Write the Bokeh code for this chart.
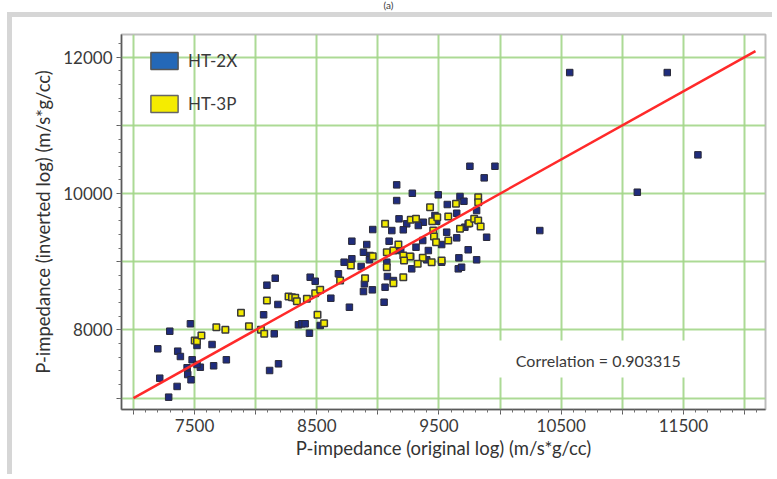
from bokeh.plotting import figure
from bokeh.layouts import column
from bokeh.models import Range1d, FixedTicker, Legend, LegendItem, BoxAnnotation, Label, Div
from bokeh.embed import file_html
from bokeh.resources import INLINE

# ---------------- data ----------------
ht2x_x = [7297, 7199, 7466, 7362, 7384, 7215, 7357, 7288, 7439, 7444, 7471, 7480, 7520, 7547,
          7520, 7643, 7656, 7760, 8092, 8065, 8182, 8152, 8114, 8187, 8350, 8378, 8405, 8440,
          8528, 8615, 8767, 8890, 8882, 8955, 9051, 9059, 9154, 9154, 9173, 8958, 9114, 8787,
          8909, 8882, 8936, 8724, 8787, 8863, 8931, 9092, 9073, 9078, 9127, 8446, 8487, 8677,
          8160, 9753, 9958, 9870, 11619, 11123, 10325, 9282, 9494, 9672, 9704, 9568, 9645, 9808,
          9372, 9331, 9236, 9208, 9467, 9481, 9563, 9712, 9739, 9890, 9645, 9522, 9367, 9187,
          9312, 9413, 9739, 9808, 9663, 9658, 9685, 9522, 9400, 9277, 9269, 10570, 11368]
ht2x_y = [7982, 7724, 8091, 7689, 7611, 7293, 7172, 7015, 7446, 7347, 7270, 7563, 7773, 7454,
          7494, 7787, 7475, 7563, 8657, 8223, 8374, 7944, 7406, 7504, 8076, 8091, 8091, 7953,
          8066, 8466, 8334, 8677, 8564, 8589, 8407, 8627, 10128, 9898, 9630, 9473, 9458, 9302,
          9253, 9140, 9092, 8994, 9044, 8931, 9029, 9302, 8994, 8784, 8725, 8774, 8715, 8824,
          8759, 10401, 10401, 10231, 10568, 10020, 9458, 10005, 9982, 9957, 9888, 9840, 9712, 9752,
          9580, 9532, 9557, 9469, 9678, 9595, 9434, 9507, 9557, 9360, 9351, 9253, 9312, 9165,
          9214, 9165, 9176, 9029, 9058, 8897, 8920, 8994, 9029, 8897, 9077, 11775, 11775]

ht3p_x = [7501, 7520, 7556, 7678, 7752, 7880, 7945, 8043, 8070, 8092, 8269, 8297, 8324, 8337,
          8419, 8487, 8528, 8506, 8560, 9127, 9059, 9073, 9127, 8958, 8779, 9073, 8895, 8691,
          9427, 9639, 9821, 9821, 9269, 9312, 9445, 9486, 9576, 9672, 9748, 9788, 9821, 9841,
          9453, 9459, 9476, 9576, 9168, 9208, 9263, 9214, 9367, 9440, 9326, 9522, 9208]
ht3p_y = [7846, 7836, 7919, 8041, 8003, 8252, 8056, 8003, 7944, 8432, 8491, 8481, 8472, 8422,
          8457, 8539, 8589, 8223, 8100, 8686, 9557, 9140, 9165, 9082, 8945, 8920, 8759, 8725,
          9800, 9850, 9947, 9873, 9615, 9630, 9595, 9654, 9664, 9483, 9566, 9630, 9605, 9517,
          9458, 9371, 9287, 9312, 9253, 9092, 9077, 9019, 9058, 8994, 8970, 9019, 8774]

fit_x = [7000, 12090]
fit_y = [7000, 12090]

series_names = ["HT-2X", "HT-3P"]
correlation = 0.903315

x_major = list(range(7000, 12001, 500))
x_minor = list(range(6900, 12200, 100))
x_tick_labels = [7500, 8500, 9500, 10500, 11500]
y_major = list(range(7000, 12001, 1000))
y_minor = list(range(6800, 12400, 200))
y_tick_labels = [8000, 10000, 12000]

FONT = "Lato"
TXT = "#3a3a3a"
BAND = "#d6d6d6"

p = figure(width=765, height=462, output_backend="svg", toolbar_location=None,
           x_range=Range1d(6902, 12172), y_range=Range1d(6834, 12333),
           min_border_left=109, min_border_right=12, min_border_top=17, min_border_bottom=70,
           background_fill_color="white", border_fill_color="white",
           margin=(0, 0, 0, 7),
           styles={"border-left": "5px solid " + BAND, "border-top": "5px solid " + BAND})

p.outline_line_color = "#bdbdbd"
p.outline_line_width = 2

# axes
for ax, major, minor, labs in ((p.xaxis, x_major, x_minor, x_tick_labels),
                               (p.yaxis, y_major, y_minor, y_tick_labels)):
    ax.ticker = FixedTicker(ticks=major, minor_ticks=minor)
    ax.major_label_overrides = {t: (str(t) if t in labs else "") for t in major}
    ax.axis_line_color = "#5a5a5a"
    ax.axis_line_width = 1.5
    ax.major_tick_line_color = "#5a5a5a"
    ax.minor_tick_line_color = "#707070"
    ax.major_tick_in = 0
    ax.major_tick_out = 5
    ax.minor_tick_in = 0
    ax.minor_tick_out = 3
    ax.major_label_text_font = FONT
    ax.major_label_text_font_size = "17px"
    ax.major_label_text_color = TXT
    ax.axis_label_text_font = FONT
    ax.axis_label_text_font_size = "18.5px"
    ax.axis_label_text_font_style = "normal"
    ax.axis_label_text_color = "#333333"
    ax.major_label_standoff = 4

p.xaxis.axis_label = "P-impedance (original log) (m/s*g/cc)"
p.yaxis.axis_label = "P-impedance (inverted log) (m/s*g/cc)"
p.xaxis.axis_label_standoff = 2
p.yaxis.axis_label_standoff = 6

p.grid.grid_line_color = "#a3d68a"
p.grid.grid_line_width = 2
p.grid.grid_line_alpha = 0.9

# points
p.scatter(ht2x_x, ht2x_y, marker="square", size=6.5, fill_color="#1f2c7c",
          line_color="#2a2a3a", line_width=1)
p.scatter(ht3p_x, ht3p_y, marker="square", size=6.5, fill_color="#f2ea00",
          line_color="#3a3a3a", line_width=1.5)

# fit line
p.line(fit_x, fit_y, line_color="#ff2a2a", line_width=2.5)

# correlation box
p.add_layout(BoxAnnotation(left=9966, right=11673, bottom=7303, top=7846,
                           fill_color="white", fill_alpha=1, line_color=None))
p.add_layout(Label(x=10129, y=7553, text="Correlation = %g" % correlation,
                   text_baseline="middle", text_font=FONT, text_font_size="16px",
                   text_color=TXT))

# legend (swatch-only renderers, kept outside the visible range)
r1 = p.quad(left=[0], right=[0], top=[0], bottom=[0], fill_color="#2468b8",
            line_color="#555555", line_width=1.5)
r2 = p.quad(left=[0], right=[0], top=[0], bottom=[0], fill_color="#f5ec00",
            line_color="#666666", line_width=1.5)
legend = Legend(items=[LegendItem(label=series_names[0], renderers=[r1]),
                       LegendItem(label=series_names[1], renderers=[r2])],
                location=(26, 295), orientation="vertical",
                glyph_width=34, glyph_height=21, spacing=22, padding=0, margin=0,
                label_standoff=7, label_text_font=FONT, label_text_font_size="17px",
                label_text_color=TXT, background_fill_alpha=0, border_line_color=None)
p.add_layout(legend)

cap = Div(text="(a)", width=777, height=12, margin=0,
          styles={"text-align": "center", "font-family": FONT, "font-size": "10px",
                  "color": TXT, "line-height": "11px"})

layout = column(cap, p, spacing=0)

open("out.html", "w").write(file_html(layout, INLINE))
